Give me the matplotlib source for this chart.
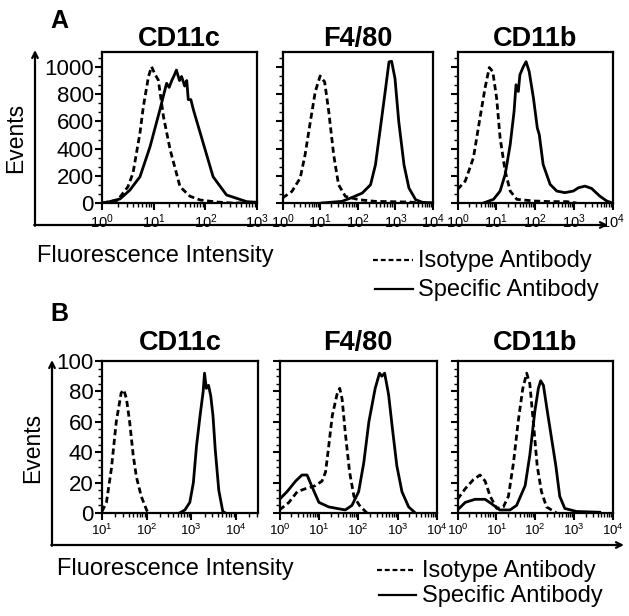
import numpy as np
import matplotlib
matplotlib.use('Agg')
import matplotlib.pyplot as plt
from matplotlib.ticker import MultipleLocator, LogLocator, NullFormatter

plt.rcParams['font.family'] = ['Liberation Sans', 'DejaVu Sans']
plt.rcParams['mathtext.fontset'] = 'custom'
plt.rcParams['mathtext.rm'] = 'Liberation Sans'
plt.rcParams['mathtext.it'] = 'Liberation Sans'

# panel titles
markers = ['CD11c', 'F4/80', 'CD11b']

# --- panel A (log10 of intensity, events) ---
a_cd11c_iso_lx = [0.0, 0.3, 0.5, 0.6, 0.735, 0.8, 0.9, 0.96, 1.02, 1.09, 1.19, 1.32, 1.51, 1.7, 1.9, 2.2, 2.5, 3.0]
a_cd11c_iso_y = [0, 20, 118, 220, 515, 708, 930, 1002, 950, 904, 634, 390, 120, 50, 22, 8, 0, 0]
a_cd11c_spe_lx = [0.0, 0.15, 0.35, 0.54, 0.735, 0.93, 1.12, 1.25, 1.3, 1.35, 1.4, 1.44, 1.5, 1.54, 1.6, 1.64, 1.67, 1.72, 1.77, 1.96, 2.15, 2.41, 2.8, 3.0]
a_cd11c_spe_y = [0, 10, 30, 95, 193, 414, 684, 880, 850, 900, 940, 977, 900, 930, 860, 900, 760, 760, 684, 439, 193, 59, 10, 5]

a_f480_iso_lx = [0.0, 0.25, 0.47, 0.6, 0.74, 0.87, 1.0, 1.12, 1.23, 1.36, 1.49, 1.67, 2.03, 2.47, 3.36, 3.72, 4.0]
a_f480_iso_y = [37, 85, 183, 354, 598, 817, 934, 890, 671, 354, 134, 49, 24, 12, 7, 0, 0]
a_f480_spe_lx = [1.05, 1.58, 1.85, 2.12, 2.34, 2.47, 2.6, 2.74, 2.83, 2.9, 2.99, 3.09, 3.23, 3.36, 3.54, 3.72, 4.0]
a_f480_spe_y = [0, 12, 41, 73, 134, 280, 549, 842, 1037, 1042, 915, 598, 280, 110, 24, 5, 0]

a_cd11b_iso_lx = [0.0, 0.2, 0.41, 0.58, 0.71, 0.82, 0.91, 1.01, 1.1, 1.23, 1.36, 1.53, 1.96, 2.39, 2.82, 3.07]
a_cd11b_iso_y = [100, 161, 332, 625, 844, 996, 966, 771, 478, 234, 88, 27, 15, 10, 10, 0]
a_cd11b_spe_lx = [0.67, 0.93, 1.1, 1.23, 1.36, 1.46, 1.51, 1.57, 1.61, 1.7, 1.77, 1.85, 1.96, 2.06, 2.11, 2.21, 2.39, 2.56, 2.77, 2.99, 3.12, 3.29, 3.46, 3.67, 3.85, 4.0]
a_cd11b_spe_y = [0, 27, 88, 210, 429, 673, 869, 820, 942, 1003, 1039, 966, 771, 551, 503, 283, 137, 88, 76, 88, 112, 124, 107, 51, 15, 0]

# --- panel B ---
b_cd11c_iso_lx = [1.0, 1.1, 1.21, 1.32, 1.43, 1.49, 1.55, 1.62, 1.7, 1.77, 1.88, 2.0, 2.04]
b_cd11c_iso_y = [1, 7, 29, 60, 79, 81, 75, 60, 38, 24, 11, 2, 0]
b_cd11c_spe_lx = [2.74, 2.86, 2.97, 3.05, 3.12, 3.2, 3.27, 3.3, 3.34, 3.39, 3.44, 3.49, 3.54, 3.62, 3.71, 3.77]
b_cd11c_spe_y = [0, 2, 7, 20, 44, 64, 80, 92, 82, 84, 77, 64, 42, 15, 1, 0]

b_f480_iso_lx = [0.0, 0.24, 0.45, 0.66, 0.91, 1.08, 1.17, 1.25, 1.34, 1.46, 1.53, 1.59, 1.67, 1.78, 1.89, 2.03, 2.22]
b_f480_iso_y = [2, 7, 14, 16, 18, 21, 27, 44, 64, 78, 82, 75, 53, 27, 11, 5, 0]
b_f480_spe_lx = [0.0, 0.19, 0.41, 0.57, 0.7, 0.83, 1.0, 1.25, 1.67, 1.84, 2.01, 2.14, 2.27, 2.43, 2.54, 2.6, 2.67, 2.77, 2.87, 2.98, 3.11, 3.28, 3.45]
b_f480_spe_y = [9, 14, 21, 25, 25, 17, 7, 4, 2, 5, 14, 33, 60, 82, 92, 90, 92, 78, 55, 31, 14, 4, 0]

b_cd11b_iso_lx = [0.0, 0.2, 0.41, 0.58, 0.71, 0.84, 1.01, 1.18, 1.31, 1.44, 1.56, 1.68, 1.78, 1.86, 1.95, 2.05, 2.16, 2.29, 2.55]
b_cd11b_iso_y = [9, 16, 22, 25, 21, 11, 3, 4, 11, 33, 60, 82, 92, 85, 60, 31, 14, 4, 0]
b_cd11b_spe_lx = [0.0, 0.2, 0.45, 0.71, 0.88, 1.09, 1.35, 1.52, 1.74, 1.86, 1.99, 2.08, 2.14, 2.21, 2.31, 2.42, 2.53, 2.63, 2.76, 3.06, 3.66]
b_cd11b_spe_y = [2, 7, 9, 9, 6, 2, 2, 5, 18, 38, 67, 82, 87, 84, 67, 49, 31, 11, 3, 1, 0.5]

panel_a = [(a_cd11c_iso_lx, a_cd11c_iso_y, a_cd11c_spe_lx, a_cd11c_spe_y),
           (a_f480_iso_lx, a_f480_iso_y, a_f480_spe_lx, a_f480_spe_y),
           (a_cd11b_iso_lx, a_cd11b_iso_y, a_cd11b_spe_lx, a_cd11b_spe_y)]
panel_b = [(b_cd11c_iso_lx, b_cd11c_iso_y, b_cd11c_spe_lx, b_cd11c_spe_y),
           (b_f480_iso_lx, b_f480_iso_y, b_f480_spe_lx, b_f480_spe_y),
           (b_cd11b_iso_lx, b_cd11b_iso_y, b_cd11b_spe_lx, b_cd11b_spe_y)]

W, H = 629, 616
fig = plt.figure(figsize=(W / 100, H / 100), dpi=100)

def px_axes(x0, x1, y0, y1):
    return fig.add_axes([x0 / W, 1 - y1 / H, (x1 - x0) / W, (y1 - y0) / H])

# axes boxes in pixel coords (left, right, top, bottom)
boxes_a = [(102, 257, 52, 203), (282.5, 433, 52, 203), (457.5, 612.5, 52, 203)]
boxes_b = [(102, 258, 361, 513), (279.5, 437, 361, 513), (457.5, 613, 361, 513)]
xlims_a = [(1, 1e3), (1, 1e4), (1, 1e4)]
xlims_b = [(10, 10 ** 4.5), (1, 1e4), (1, 1e4)]


def draw_row(boxes, xlims, data, ymax, ymajor, yminor, title_y, xlabsize):
    for i, (box, xl, d) in enumerate(zip(boxes, xlims, data)):
        ax = px_axes(*box)
        iso_lx, iso_y, spe_lx, spe_y = d
        ax.plot(np.power(10.0, iso_lx), iso_y, color='black', lw=2.0, ls=(0, (2.2, 1.3)))
        ax.plot(np.power(10.0, spe_lx), spe_y, color='black', lw=2.0)
        ax.set_xscale('log')
        ax.set_xlim(*xl)
        ax.set_ylim(0, ymax)
        ax.xaxis.set_major_locator(LogLocator(base=10, numticks=10))
        ax.xaxis.set_minor_locator(LogLocator(base=10, subs=np.arange(2, 10), numticks=10))
        ax.xaxis.set_minor_formatter(NullFormatter())
        ax.yaxis.set_major_locator(MultipleLocator(ymajor))
        ax.yaxis.set_minor_locator(MultipleLocator(yminor))
        for s in ax.spines.values():
            s.set_linewidth(1.6)
        ax.tick_params(which='major', direction='out', length=5, width=1.5, labelsize=xlabsize, pad=2)
        ax.tick_params(which='minor', direction='out', length=3, width=1.0)
        ax.tick_params(axis='y', which='major', labelsize=16, pad=1)
        if i > 0:
            ax.tick_params(axis='y', labelleft=False)
        cx = (box[0] + box[1]) / 2
        fig.text(cx / W, 1 - title_y / H, markers[i], ha='center', va='center',
                 fontsize=19.5, fontweight='bold')


draw_row(boxes_a, xlims_a, panel_a, 1110, 200, 200 / 3, 39, 10.5)
draw_row(boxes_b, xlims_b, panel_b, 100, 20, 5, 343, 9.5)

# overlay for outer arrows and labels (pixel coordinates)
ov = fig.add_axes([0, 0, 1, 1], zorder=-1)
ov.set_xlim(0, W)
ov.set_ylim(H, 0)
ov.axis('off')
arrow = dict(arrowstyle='->', lw=1.6, color='black', shrinkA=0, shrinkB=0, mutation_scale=10)
for (xl, yb, yt, xr) in [(35, 225, 50, 608), (52, 545, 360, 624)]:
    ov.annotate('', xy=(xl, yt), xytext=(xl, yb + 0.8), arrowprops=arrow)
    ov.annotate('', xy=(xr, yb), xytext=(xl - 0.8, yb), arrowprops=arrow)

ov.text(50, 21, 'A', fontsize=18, fontweight='bold', ha='left', va='center')
ov.text(50, 314, 'B', fontsize=18, fontweight='bold', ha='left', va='center')

ov.text(16, 138, 'Events', rotation=90, fontsize=16.5, ha='center', va='center')
ov.text(33, 448, 'Events', rotation=90, fontsize=16.5, ha='center', va='center')
ov.text(37, 262, 'Fluorescence Intensity', fontsize=17, ha='left', va='baseline')
ov.text(57, 575, 'Fluorescence Intensity', fontsize=17, ha='left', va='baseline')

legend_rows = [(373, 413, 418, 267, 296), (377, 416, 422, 577, 602)]
for (l0, l1, tx, b1, b2) in legend_rows:
    ov.plot([l0, l1], [b1 - 7, b1 - 7], color='black', lw=1.6, ls=(0, (2.2, 1.3)))
    ov.plot([l0 + 2, l1], [b2 - 7, b2 - 7], color='black', lw=1.6)
    ov.text(tx, b1, 'Isotype Antibody', fontsize=17, ha='left', va='baseline')
    ov.text(tx, b2, 'Specific Antibody', fontsize=17, ha='left', va='baseline')

fig.savefig('out.png', dpi=100)
